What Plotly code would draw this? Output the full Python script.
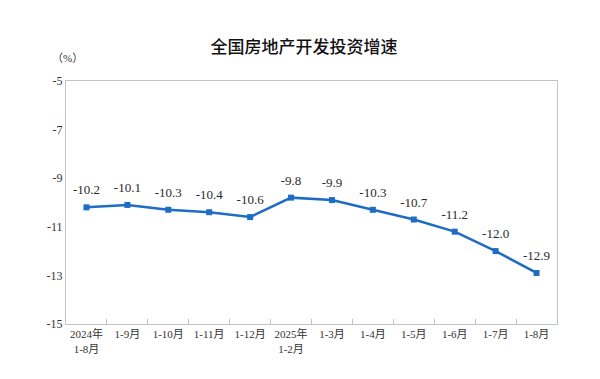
import plotly.graph_objects as go

categories = ["2024年<br>1-8月", "1-9月", "1-10月", "1-11月", "1-12月", "2025年<br>1-2月",
              "1-3月", "1-4月", "1-5月", "1-6月", "1-7月", "1-8月"]
values = [-10.2, -10.1, -10.3, -10.4, -10.6, -9.8, -9.9, -10.3, -10.7, -11.2, -12.0, -12.9]
label_text = [f"{v:.1f}" for v in values]
y_ticks = [-5, -7, -9, -11, -13, -15]

serif = "'Liberation Serif', 'Times New Roman', 'Noto Sans CJK SC', serif"

# page body has an 8px margin, so the figure is sized to fit inside the window
W, H = 592, 371

fig = go.Figure()
fig.add_trace(go.Scatter(
    x=categories, y=values, mode="lines+markers",
    line=dict(color="#1f6cc4", width=2.5),
    marker=dict(symbol="square", size=6, color="#1f6cc4"),
    cliponaxis=False, hoverinfo="skip",
))
fig.add_trace(go.Scatter(
    x=categories, y=values, mode="markers+text",
    marker=dict(size=14, color="rgba(0,0,0,0)"),
    text=label_text, textposition="top center",
    textfont=dict(family=serif, size=13, color="#2a2a2a"),
    cliponaxis=False,
))

fig.update_layout(
    width=W, height=H,
    margin=dict(l=58, r=43, t=73, b=55),
    paper_bgcolor="white", plot_bgcolor="white",
    showlegend=False,
    title=dict(text="全国房地产开发投资增速", x=0.5, xanchor="center", y=0.895, yanchor="middle",
               font=dict(family="Noto Sans CJK SC", size=17, color="#111111", weight=500)),
    annotations=[dict(text="（%）", xref="paper", yref="paper", x=0.004, y=1.095,
                      xanchor="center", yanchor="middle", showarrow=False,
                      font=dict(family=serif, size=11, color="#333333"))],
)

fig.update_xaxes(
    type="category", range=[-0.5, len(categories) - 0.5],
    tickson="boundaries", ticks="inside", ticklen=5, tickcolor="#c4c4c4",
    showline=True, linecolor="#c4c4c4", linewidth=1, mirror=True, automargin=False,
    tickangle=0, showgrid=False, tickfont=dict(family=serif, size=11, color="#333333"),
)
fig.update_yaxes(
    range=[-15, -5], tickvals=y_ticks, ticktext=[str(v) for v in y_ticks],
    showline=True, linecolor="#c4c4c4", linewidth=1, mirror=True, automargin=False,
    showgrid=False, zeroline=False, ticks="",
    tickfont=dict(family=serif, size=12, color="#333333"),
)

fig.write_html("out.html")
